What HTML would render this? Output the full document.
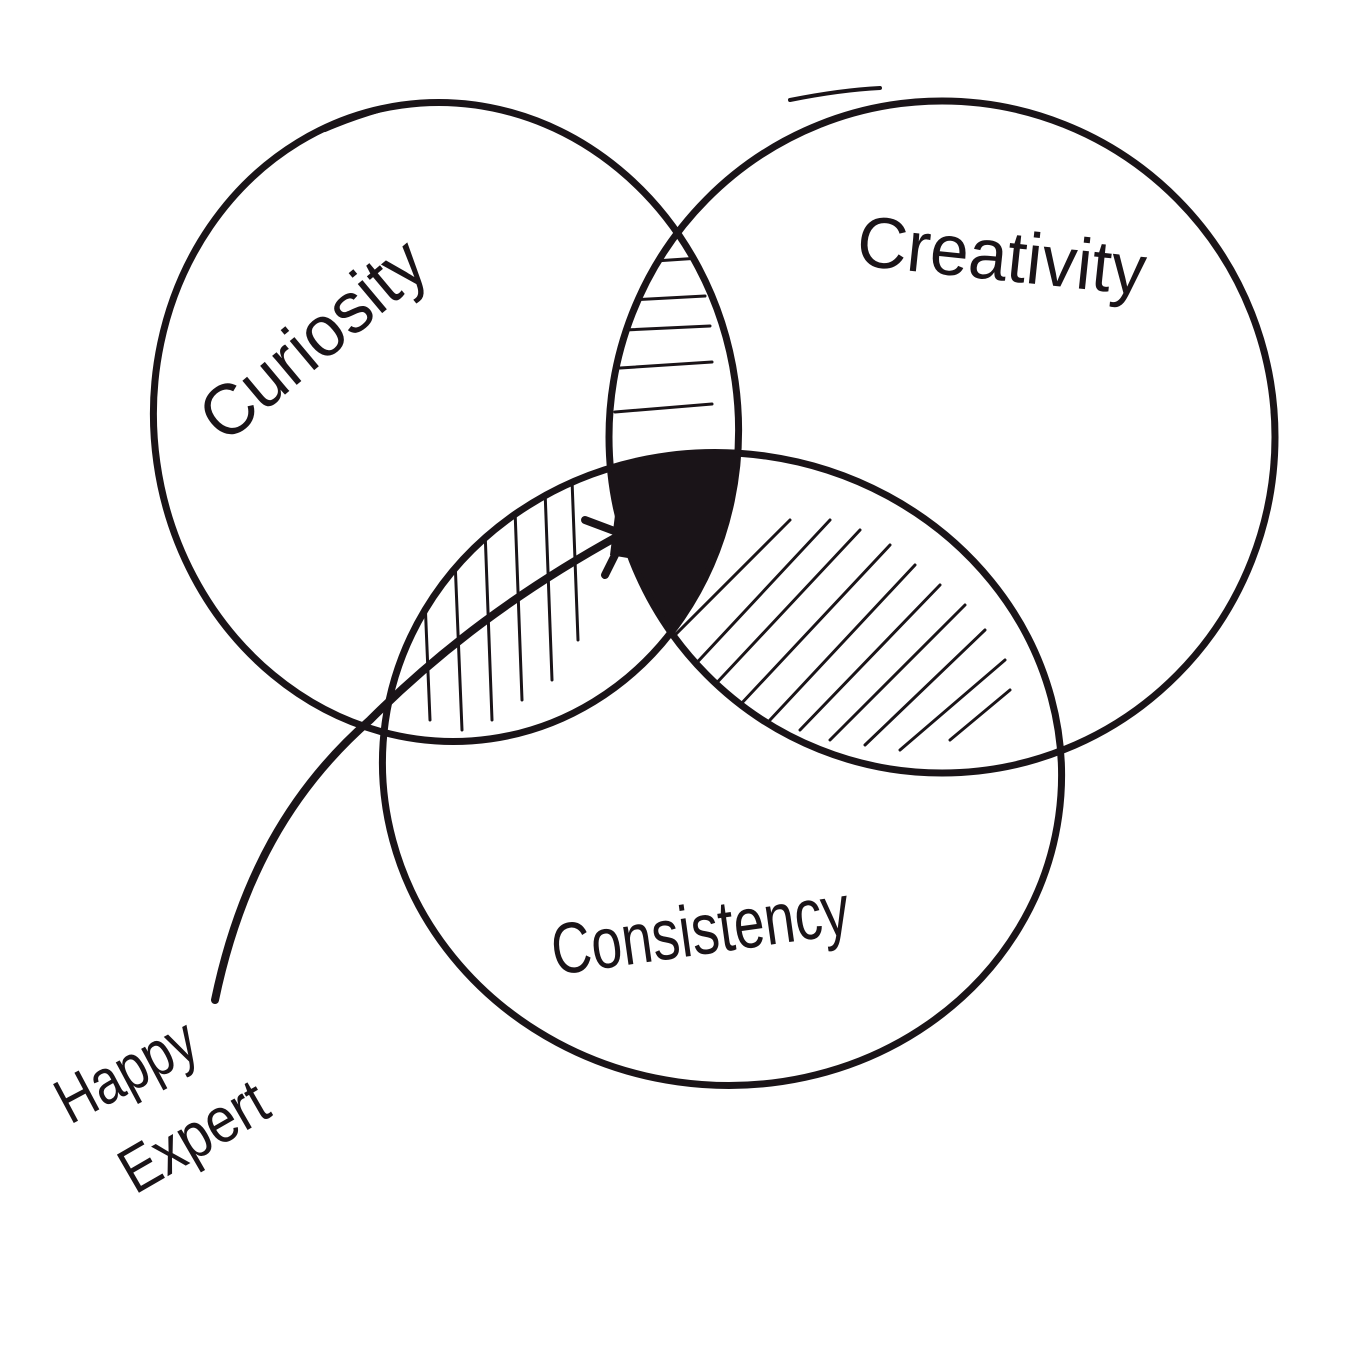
<!DOCTYPE html>
<html><head><meta charset="utf-8"><style>html,body{margin:0;padding:0;background:#fff}svg{display:block}</style></head>
<body>
<svg width="1355" height="1355" viewBox="0 0 1355 1355" xmlns="http://www.w3.org/2000/svg">
<defs>
<clipPath id="A"><ellipse cx="446" cy="422" rx="292" ry="320" transform="rotate(-8 446 422)"/></clipPath>
<clipPath id="B"><ellipse cx="942" cy="437" rx="333" ry="336"/></clipPath>
<clipPath id="C"><ellipse cx="722" cy="769" rx="340" ry="316" transform="rotate(8 722 769)"/></clipPath>
</defs>
<g fill="none" stroke="#1a1418" stroke-linecap="round">
 <!-- A∩B horizontal hatch -->
 <g clip-path="url(#A)"><g clip-path="url(#B)" stroke-width="3">
  <line x1="640" y1="262" x2="700" y2="258"/><line x1="630" y1="300" x2="705" y2="296"/>
  <line x1="625" y1="330" x2="710" y2="326"/><line x1="620" y1="368" x2="712" y2="362"/>
  <line x1="615" y1="412" x2="712" y2="404"/>
 </g></g>
 <!-- A∩C vertical hatch -->
 <g clip-path="url(#A)"><g clip-path="url(#C)" stroke-width="3">
  <line x1="425" y1="600" x2="430" y2="720"/><line x1="455" y1="560" x2="462" y2="730"/>
  <line x1="485" y1="530" x2="492" y2="720"/><line x1="515" y1="510" x2="522" y2="700"/>
  <line x1="545" y1="490" x2="552" y2="680"/><line x1="572" y1="480" x2="578" y2="640"/>
 </g></g>
 <!-- B∩C diagonal hatch -->
 <g clip-path="url(#B)"><g clip-path="url(#C)" stroke-width="3">
  <line x1="790" y1="520" x2="670" y2="640"/><line x1="830" y1="520" x2="690" y2="670"/>
  <line x1="860" y1="530" x2="710" y2="690"/><line x1="890" y1="545" x2="740" y2="705"/>
  <line x1="915" y1="565" x2="770" y2="720"/><line x1="940" y1="585" x2="800" y2="730"/>
  <line x1="965" y1="605" x2="830" y2="740"/><line x1="985" y1="630" x2="865" y2="745"/>
  <line x1="1005" y1="660" x2="900" y2="750"/><line x1="1010" y1="690" x2="950" y2="740"/>
 </g></g>
 <!-- triple -->
 <g clip-path="url(#A)"><g clip-path="url(#B)"><g clip-path="url(#C)">
  <rect x="550" y="420" width="250" height="260" fill="#1a1418" stroke="none"/>
 </g></g></g>
 <!-- circles -->
 <g stroke-width="7">
  <ellipse cx="446" cy="422" rx="292" ry="320" transform="rotate(-8 446 422)"/>
  <ellipse cx="942" cy="437" rx="333" ry="336"/>
  <ellipse cx="722" cy="769" rx="340" ry="316" transform="rotate(8 722 769)"/>
  <path d="M325 130 Q360 115 400 105" stroke-width="4"/>
  <path d="M790 100 Q840 90 880 88" stroke-width="4"/>
 </g>
 <!-- arrow -->
 <path d="M215 1000 C240 880 290 790 370 720 C440 650 520 590 620 535" stroke-width="8"/>
 <path d="M585 520 L625 535 L605 575" stroke-width="8" stroke-linejoin="round"/>
 <path d="M615 515 L645 520 L640 560 L610 555 Z" fill="#1a1418" stroke="none"/>
</g>
<g fill="#1a1418" font-family="Liberation Sans, sans-serif">
 <text x="0" y="0" font-size="72" textLength="270" lengthAdjust="spacingAndGlyphs" transform="translate(225 445) rotate(-40)">Curiosity</text>
 <text x="0" y="0" font-size="72" textLength="290" lengthAdjust="spacingAndGlyphs" transform="translate(855 265) rotate(6)">Creativity</text>
 <text x="0" y="0" font-size="72" textLength="300" lengthAdjust="spacingAndGlyphs" transform="translate(555 975) rotate(-8)">Consistency</text>
 <text x="0" y="0" font-size="64" textLength="150" lengthAdjust="spacingAndGlyphs" transform="translate(70 1125) rotate(-28)">Happy</text>
 <text x="0" y="0" font-size="64" textLength="160" lengthAdjust="spacingAndGlyphs" transform="translate(135 1195) rotate(-30)">Expert</text>
</g>
</svg>
</body></html>
